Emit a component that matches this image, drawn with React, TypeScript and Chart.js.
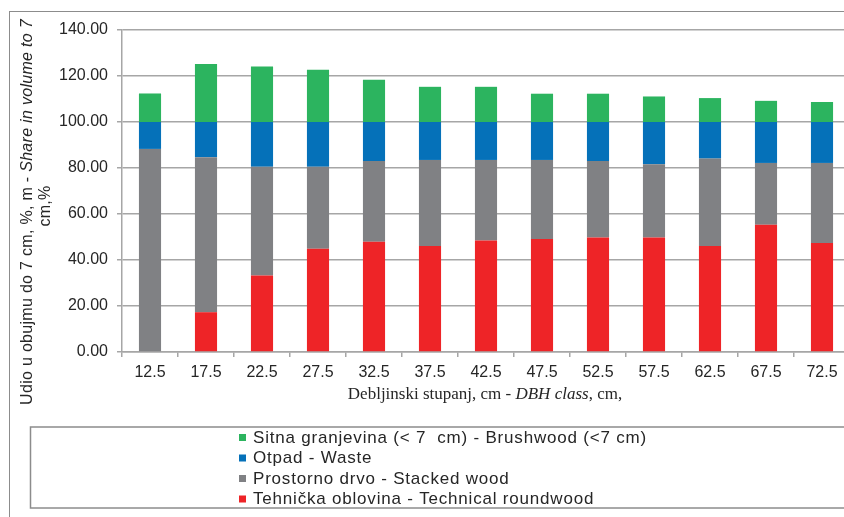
import { useEffect, useRef } from 'react';
import { Chart, registerables } from 'chart.js';

Chart.register(...registerables);

// DBH classes (cm) on the category axis
const dbhClasses = ['12.5', '17.5', '22.5', '27.5', '32.5', '37.5', '42.5', '47.5', '52.5', '57.5', '62.5', '67.5', '72.5'];

// Share in volume (%) per assortment, stacked bottom to top
const technicalRoundwood = [0, 17.3, 33.3, 44.9, 47.9, 46.1, 48.5, 49.1, 49.8, 49.8, 46.1, 55.3, 47.4];
const stackedWood = [88.3, 67.4, 47.2, 35.6, 35.1, 37.4, 35.0, 34.4, 33.2, 31.8, 38.0, 26.9, 34.8];
const waste = [11.7, 15.3, 19.5, 19.5, 17.0, 16.5, 16.5, 16.5, 17.0, 18.4, 15.9, 17.8, 17.8];
const brushwood = [12.4, 25.2, 24.1, 22.7, 18.4, 15.3, 15.3, 12.3, 12.3, 11.1, 10.4, 9.2, 8.7];

const seriesNames = [
  'Tehnička oblovina - Technical roundwood',
  'Prostorno drvo - Stacked wood',
  'Otpad - Waste',
  'Sitna granjevina (< 7  cm) - Brushwood (<7 cm)',
];
const seriesColors = ['#ee2427', '#808184', '#0571b9', '#2cb45f'];

// value axis range and tick spacing
const yMin = 0;
const yMax = 140;
const yStep = 20;

type Run = { text: string; italic: boolean };
const yTitleLine1: Run[] = [
  { text: 'Udio u obujmu do 7 cm, %, m - ', italic: false },
  { text: 'Share in volume to 7', italic: true },
];
const yTitleLine2: Run[] = [{ text: 'cm,%', italic: false }];
const xTitle: Run[] = [
  { text: 'Debljinski stupanj, cm - ', italic: false },
  { text: 'DBH class', italic: true },
  { text: ', cm,', italic: false },
];

const SANS = '"Liberation Sans", Arial, sans-serif';
const SERIF = '"Liberation Serif", "Times New Roman", serif';
const GRID = '#a6a6a6';
const FRAME = '#8c8c8c';
const TEXT = '#262626';

function drawRuns(
  ctx: CanvasRenderingContext2D,
  runs: Run[],
  family: string,
  size: number,
  cx: number,
  baseline: number,
  spacing = 0
) {
  (ctx as any).letterSpacing = `${spacing}px`;
  const widths = runs.map((r) => {
    ctx.font = `${r.italic ? 'italic ' : ''}${size}px ${family}`;
    return ctx.measureText(r.text).width;
  });
  const total = widths.reduce((a, b) => a + b, 0);
  let x = cx - total / 2;
  ctx.textAlign = 'left';
  ctx.textBaseline = 'alphabetic';
  runs.forEach((r, i) => {
    ctx.font = `${r.italic ? 'italic ' : ''}${size}px ${family}`;
    ctx.fillText(r.text, x, baseline);
    x += widths[i];
  });
  (ctx as any).letterSpacing = '0px';
}

// Frame, axis titles and the boxed legend underneath the plot
const decorations = {
  id: 'decorations',
  afterDraw(chart: Chart) {
    const ctx = chart.ctx;
    const area = chart.chartArea;
    ctx.save();

    // outer chart frame
    ctx.strokeStyle = FRAME;
    ctx.lineWidth = 1;
    ctx.strokeRect(9.5, 11.5, 2000, 2000);

    ctx.fillStyle = TEXT;

    // rotated value-axis title, two lines
    ctx.save();
    ctx.rotate(-Math.PI / 2);
    drawRuns(ctx, yTitleLine1, SANS, 16, -(area.bottom - 140), 32, 0.3);
    drawRuns(ctx, yTitleLine2, SANS, 16, -(area.bottom - 146), 50, 0.3);
    ctx.restore();

    // category-axis title
    drawRuns(ctx, xTitle, SERIF, 17, 485, area.bottom + 47);

    // legend box
    const boxTop = area.bottom + 75;
    ctx.strokeStyle = FRAME;
    ctx.lineWidth = 1.5;
    ctx.strokeRect(30.5, boxTop, 2000, 81);

    const datasets = chart.data.datasets;
    const rowGap = 20.5;
    const firstRow = boxTop + 10;
    ctx.font = `17px ${SANS}`;
    ctx.textAlign = 'left';
    ctx.textBaseline = 'middle';
    (ctx as any).letterSpacing = '0.8px';
    for (let k = 0; k < datasets.length; k++) {
      const ds = datasets[datasets.length - 1 - k];
      const cy = firstRow + k * rowGap;
      ctx.fillStyle = ds.backgroundColor as string;
      ctx.fillRect(239, cy - 3, 7, 7);
      ctx.fillStyle = TEXT;
      ctx.fillText(ds.label as string, 253, cy + 1);
    }
    (ctx as any).letterSpacing = '0px';

    ctx.restore();
  },
};

export default function App() {
  const canvasRef = useRef<HTMLCanvasElement | null>(null);

  useEffect(() => {
    const canvas = canvasRef.current;
    if (!canvas) return;
    const series = [technicalRoundwood, stackedWood, waste, brushwood];
    const chart = new Chart(canvas, {
      type: 'bar',
      data: {
        labels: dbhClasses,
        datasets: series.map((values, i) => ({
          label: seriesNames[i],
          data: values,
          backgroundColor: seriesColors[i],
          borderWidth: 0,
          barPercentage: 0.395,
          categoryPercentage: 1,
        })),
      },
      options: {
        responsive: false,
        animation: false,
        devicePixelRatio: 1,
        layout: { padding: { left: 0, top: 30, right: 30, bottom: 0 } },
        plugins: {
          legend: { display: false },
          tooltip: { enabled: false },
          title: { display: false },
        },
        scales: {
          x: {
            stacked: true,
            grid: { drawOnChartArea: false, drawTicks: true, tickLength: 5, color: GRID, lineWidth: 1.5 },
            border: { color: GRID, width: 1.5 },
            ticks: {
              color: TEXT,
              font: { family: SANS, size: 16 },
              padding: 6,
              maxRotation: 0,
              autoSkip: false,
            },
            afterFit: (scale: any) => {
              scale.height = 178;
            },
          },
          y: {
            stacked: true,
            min: yMin,
            max: yMax,
            grid: { color: GRID, lineWidth: 1.5, tickLength: 5, drawTicks: true },
            border: { color: GRID, width: 1.5 },
            ticks: {
              stepSize: yStep,
              color: TEXT,
              font: { family: SANS, size: 16 },
              padding: 9,
              callback: (v: any) => Number(v).toFixed(2),
            },
            afterFit: (scale: any) => {
              scale.width = 122;
            },
          },
        },
      },
      plugins: [decorations],
    });
    return () => chart.destroy();
  }, []);

  return (
    <div
      style={{
        position: 'absolute',
        left: 0,
        top: 0,
        width: 844,
        height: 517,
        overflow: 'hidden',
        background: '#ffffff',
      }}
    >
      <canvas ref={canvasRef} width={880} height={530} style={{ display: 'block' }} />
    </div>
  );
}
